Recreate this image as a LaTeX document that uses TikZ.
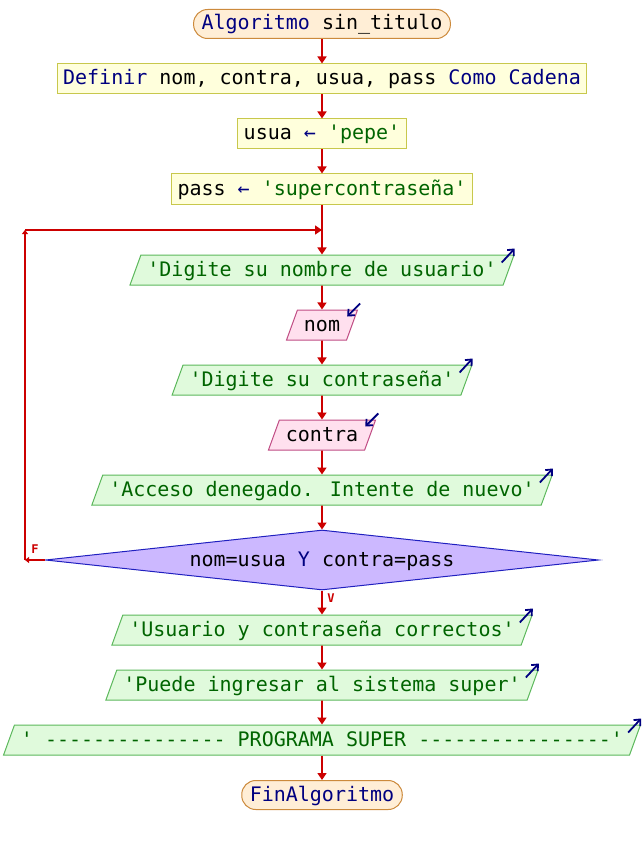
\documentclass[tikz,border=0pt]{standalone}
\usepackage{fontspec}
\newfontfamily\psfont{DejaVu Sans Mono}[Ligatures=TeXOff]
\usetikzlibrary{shapes.geometric,arrows.meta,calc}
\definecolor{flechaRoja}{HTML}{CC0000}
\definecolor{palabraClave}{HTML}{000080}
\definecolor{cadenaVerde}{HTML}{006400}
\definecolor{fondoInicio}{HTML}{FFEED6}
\definecolor{bordeInicio}{HTML}{CC8A3C}
\definecolor{fondoProceso}{HTML}{FFFFDC}
\definecolor{bordeProceso}{HTML}{C8C84C}
\definecolor{fondoSalida}{HTML}{E0FADC}
\definecolor{bordeSalida}{HTML}{5CB85C}
\definecolor{fondoEntrada}{HTML}{FFE0EE}
\definecolor{bordeEntrada}{HTML}{C04C84}
\definecolor{fondoDecision}{HTML}{CCB8FF}
\definecolor{bordeDecision}{HTML}{2020C0}
\newcommand{\kw}[1]{\textcolor{palabraClave}{#1}}
\newcommand{\cad}[1]{\textcolor{cadenaVerde}{#1}}
\tikzset{
  texto/.style={font=\psfont\fontsize{20}{24}\selectfont, text height=16pt,
    text depth=4pt, inner ysep=5pt},
  inicio/.style={texto, draw=bordeInicio, fill=fondoInicio, rounded corners=14pt,
    inner ysep=4.5pt, inner xsep=8pt, line width=1pt},
  proceso/.style={texto, draw=bordeProceso, fill=fondoProceso,
    inner xsep=6pt, line width=1pt},
  salida/.style={texto, trapezium, trapezium left angle=70, trapezium right angle=110,
    draw=bordeSalida, fill=fondoSalida, text=cadenaVerde,
    inner xsep=6.5pt, line width=1pt},
  entrada/.style={salida, draw=bordeEntrada, fill=fondoEntrada, text=black},
  decision/.style={texto, diamond, aspect=9.2, draw=bordeDecision, fill=fondoDecision,
    minimum width=553pt, minimum height=60pt, inner sep=0pt, line width=1pt},
  flecha/.style={draw=flechaRoja, line width=1.6pt, -{Triangle[length=7pt,width=9pt]}},
  flechita/.style={draw=flechaRoja, line width=1.6pt, -{Triangle[length=4pt,width=6pt]}},
  icono/.style={draw=palabraClave, line width=1.8pt, -{Straight Barb[length=5pt,width=9pt]}},
  etiqueta/.style={font=\psfont\bfseries\fontsize{12}{14}\selectfont, text=flechaRoja, inner sep=0pt},
}
\newcommand{\iconoSalida}[1]{\draw[icono] ($(#1.top right corner)+(-13,8)$) -- ($(#1.top right corner)+(0,-6)$);}
\newcommand{\iconoEntrada}[1]{\draw[icono] ($(#1.top right corner)+(2,-6)$) -- ($(#1.top right corner)+(-11,7)$);}
\begin{document}
\begin{tikzpicture}[x=1pt,y=-1pt]
\useasboundingbox (0,0) rectangle (644,845);
% bloques del algoritmo
\node[inicio] (ini) at (322,24) {\kw{Algoritmo} sin\_titulo};
\node[proceso] (def) at (322,79) {\kw{Definir} nom, contra, usua, pass \kw{Como Cadena}};
\node[proceso] (asig1) at (322,134) {usua \kw{←} \cad{'pepe'}};
\node[proceso] (asig2) at (322,189) {pass \kw{←} \cad{'supercontraseña'}};
\node[salida] (msg1) at (322,270) {'Digite su nombre de usuario'};
\node[entrada] (leer1) at (322,325) {nom};
\node[salida] (msg2) at (322,380) {'Digite su contraseña'};
\node[entrada] (leer2) at (322,435) {contra};
\node[salida] (msg3) at (322,490) {'Acceso denegado. Intente de nuevo'};
\node[decision] (cond) at (322,560) {nom=usua \kw{Y} contra=pass};
\node[salida] (msg4) at (322,630) {'Usuario y contraseña correctos'};
\node[salida] (msg5) at (322,685) {'Puede ingresar al sistema super'};
\node[salida] (msg6) at (322,740) {' --------------- PROGRAMA SUPER ----------------'};
\node[inicio] (fin) at (322,795) {\kw{FinAlgoritmo}};
% lazo
\coordinate (junta) at (322,230);
\coordinate (esqArriba) at (25,230);
\coordinate (esqAbajo) at (25,560);
\node[etiqueta] (lblF) at (35,549) {F};
\node[etiqueta] (lblV) at (331,598) {V};
% flechas
\draw[flecha] (ini) -- (def);
\draw[flecha] (def) -- (asig1);
\draw[flecha] (asig1) -- (asig2);
\draw[flecha] (asig2) -- (msg1);
\draw[flecha] (msg1) -- (leer1);
\draw[flecha] (leer1) -- (msg2);
\draw[flecha] (msg2) -- (leer2);
\draw[flecha] (leer2) -- (msg3);
\draw[flecha] (msg3) -- (cond);
\draw[flecha] (cond) -- (msg4);
\draw[flecha] (msg4) -- (msg5);
\draw[flecha] (msg5) -- (msg6);
\draw[flecha] (msg6) -- (fin);
\draw[flechita] (cond.west) -- (esqAbajo);
\draw[flechita] (esqAbajo) -- (esqArriba);
\draw[flecha] (esqArriba) -- (junta);
% iconos de lectura y escritura
\iconoSalida{msg1}
\iconoEntrada{leer1}
\iconoSalida{msg2}
\iconoEntrada{leer2}
\iconoSalida{msg3}
\iconoSalida{msg4}
\iconoSalida{msg5}
\iconoSalida{msg6}
\end{tikzpicture}
\end{document}
